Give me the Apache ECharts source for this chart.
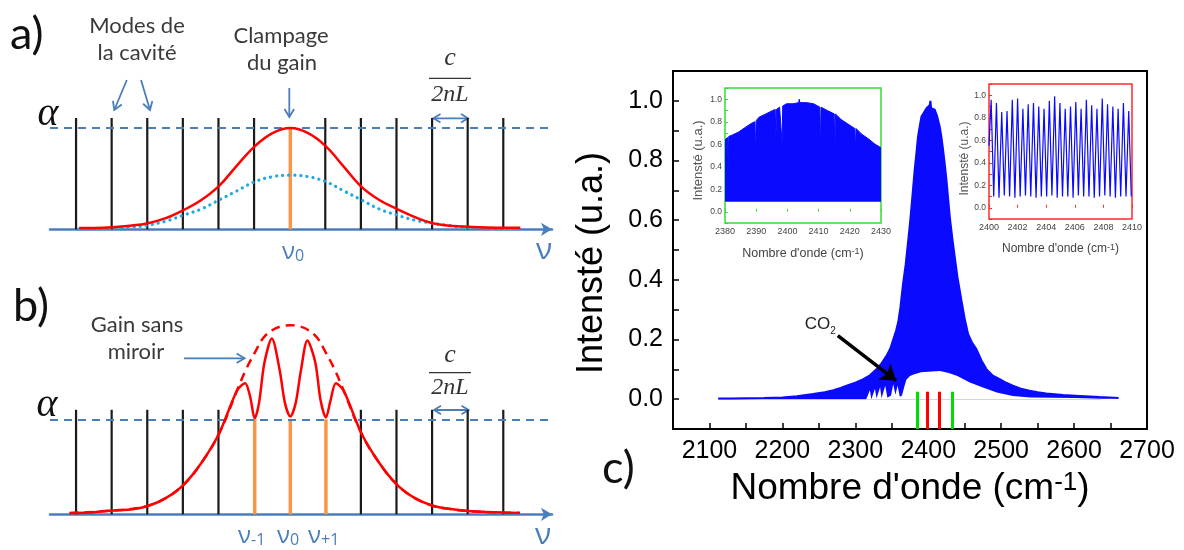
<!DOCTYPE html>
<html><head><meta charset="utf-8">
<script src="https://cdn.jsdelivr.net/npm/echarts@6/dist/echarts.min.js"></script>
<style>html,body{margin:0;padding:0;background:#fff}#c{width:1184px;height:550px}</style>
</head><body><div id="c"></div>
<script>
// ---------- Panel a) : cavity modes and clamped gain ----------
const modesA = [-6,-5,-4,-3,-2,-1,1,2,3,4,5,6];
const lasingA = [0];
const modeHeight = 1.1;
const alphaLevel = 1;
const gainAx = [-5.93,-5.5,-5,-4.5,-4,-3.5,-3,-2.5,-2,-1.5,-1,-0.5,0,0.5,1,1.5,2,2.5,3,3.5,4,4.5,5,5.5,6,6.46];
const gainAy = [0.012,0.013,0.02,0.035,0.06,0.11,0.19,0.29,0.43,0.63,0.82,0.95,1.0,0.95,0.82,0.62,0.42,0.29,0.2,0.12,0.06,0.035,0.025,0.018,0.015,0.015];
const unsatAy = [0.004,0.005,0.01,0.02,0.04,0.08,0.14,0.2,0.29,0.38,0.47,0.52,0.535,0.52,0.47,0.38,0.29,0.2,0.14,0.09,0.06,0.035,0.018,0.01,0.006,0.005];

// ---------- Panel b) : gain without mirror / spectral hole burning ----------
const modesB = [-6,-5,-4,-3,-2,2,3,4,5,6];
const lasingB = [-1,0,1];
const freeBx = [-6.2,-5.5,-5,-4.5,-4,-3.5,-3,-2.5,-2,-1.5,-1.25,-1,-0.75,-0.5,-0.25,0,0.25,0.5,0.75,1,1.25,1.5,2,2.5,3,3.5,4,4.5,5,5.5,6,6.45];
const freeBy = [0.015,0.025,0.04,0.055,0.09,0.17,0.31,0.54,0.85,1.3,1.52,1.7,1.86,1.94,1.98,1.99,1.98,1.94,1.86,1.7,1.52,1.3,0.85,0.54,0.31,0.17,0.09,0.055,0.035,0.025,0.018,0.015];
const satBx = [-6.2,-5.5,-5,-4.5,-4,-3.5,-3,-2.5,-2,-1.5,-1.27,-1.13,-1.0,-0.88,-0.73,-0.52,-0.3,-0.15,0,0.15,0.3,0.48,0.7,0.85,1.0,1.13,1.28,1.5,2,2.5,3,3.5,4,4.5,5,5.5,6,6.45];
const satBy = [0.012,0.022,0.04,0.05,0.087,0.17,0.31,0.54,0.85,1.3,1.38,1.24,1.01,1.17,1.59,1.85,1.52,1.17,1.03,1.17,1.52,1.83,1.6,1.2,1.02,1.2,1.38,1.3,0.85,0.54,0.31,0.17,0.09,0.055,0.035,0.025,0.018,0.015];

// ---------- Panel c) : measured spectrum ----------
const specUpper = [[2112,0.002],[2130,0.002],[2150,0.003],[2175,0.004],[2200,0.006],[2220,0.01],[2242,0.017],[2258,0.023],[2270,0.03],[2280,0.038],[2288,0.045],[2300,0.055],[2311,0.067],[2320,0.08],[2329,0.1],[2336,0.12],[2343,0.146],[2348,0.17],[2352,0.2],[2356,0.23],[2359,0.26],[2362,0.31],[2365.5,0.387],[2369,0.45],[2372,0.52],[2375,0.59],[2377,0.644],[2379,0.7],[2381.5,0.77],[2384,0.83],[2386,0.88],[2388,0.91],[2390.7,0.947],[2394,0.96],[2397.6,0.975],[2400,0.97],[2402,0.985],[2403,1.0],[2404,0.975],[2406,0.98],[2409,0.97],[2412,0.95],[2415.8,0.913],[2418,0.88],[2420.4,0.835],[2423,0.78],[2425,0.734],[2427,0.68],[2429.6,0.61],[2433,0.54],[2436.4,0.476],[2440,0.41],[2445.6,0.33],[2450,0.27],[2454.7,0.218],[2460,0.19],[2466,0.168],[2473,0.13],[2480,0.1],[2488,0.08],[2498,0.067],[2507,0.055],[2516,0.045],[2527,0.035],[2539,0.028],[2550,0.023],[2562,0.019],[2585,0.014],[2608,0.011],[2635,0.007],[2661,0.004]];
const specLower = [[2112,0],[2300,0],[2315,0],[2320,0.03],[2322,0.0],[2327,0.035],[2329,0.002],[2334,0.04],[2336,0.003],[2341,0.045],[2344,0.005],[2349,0.012],[2352,0.05],[2355,0.015],[2358,0.045],[2361,0.008],[2364,0.012],[2367,0.04],[2370,0.065],[2375,0.078],[2380,0.083],[2390,0.09],[2405,0.093],[2416,0.094],[2428,0.088],[2440,0.078],[2457,0.056],[2475,0.039],[2494,0.022],[2516,0.011],[2540,0.006],[2600,0.004],[2661,0.0]];
const markX = [2385, 2399, 2415, 2433];
const markColors = ['#00dd00','#ff0000','#ff0000','#00dd00'];
const markTop = 0.025;
const co2ArrowFrom = [2276, 0.213];
const co2ArrowTo = [2356, 0.062];
const co2LabelAt = [2252, 0.25];

// green inset (2380-2430)
const greenEnv = [[2380,0.64],[2380.8,0.66],[2381.0,0.41],[2381.2,0.67],[2382.2,0.68],[2384.4,0.71],[2386.5,0.75],[2388.7,0.79],[2389.6,0.8],[2389.8,0.5],[2390.0,0.81],[2390.9,0.84],[2393.1,0.87],[2395.3,0.9],[2396.1,0.91],[2396.3,0.62],[2396.5,0.91],[2397.5,0.93],[2398.1,0.94],[2398.3,0.6],[2398.5,0.94],[2399.7,0.96],[2401.8,0.96],[2403.6,0.97],[2403.8,1.0],[2404.0,0.97],[2406.2,0.97],[2408.4,0.96],[2410.4,0.93],[2410.6,0.54],[2410.8,0.93],[2412.8,0.9],[2415.0,0.87],[2415.2,0.54],[2415.4,0.87],[2417.2,0.82],[2419.4,0.78],[2421.6,0.74],[2421.8,0.54],[2422.0,0.74],[2423.8,0.69],[2425.9,0.65],[2428.1,0.6],[2430,0.57]];
const greenBase = 0.09;

// red inset (2400-2410)
const redStart = [2400.0, 0.55];
const peakX = [2400.15,2400.52,2400.89,2401.26,2401.63,2402.00,2402.37,2402.74,2403.11,2403.48,2403.85,2404.22,2404.59,2404.96,2405.33,2405.70,2406.07,2406.44,2406.81,2407.18,2407.55,2407.92,2408.29,2408.66,2409.03,2409.40,2409.77];
const peakY = [0.96,0.93,0.85,0.86,0.96,0.97,0.88,0.92,0.93,0.9,0.88,0.95,0.99,0.93,0.88,0.9,0.94,0.88,0.96,0.91,0.88,0.97,0.92,0.9,0.88,0.93,0.86];
const valleyX = [2400.33,2400.70,2401.07,2401.44,2401.81,2402.18,2402.55,2402.92,2403.29,2403.66,2404.03,2404.40,2404.77,2405.14,2405.51,2405.88,2406.25,2406.62,2406.99,2407.36,2407.73,2408.10,2408.47,2408.84,2409.21,2409.58,2409.95];
const valleyY = [0.1,0.09,0.11,0.1,0.09,0.1,0.11,0.1,0.09,0.1,0.1,0.11,0.09,0.1,0.1,0.09,0.11,0.1,0.1,0.09,0.1,0.11,0.1,0.09,0.1,0.1,0.1];

// tick label sets
const mainXTicks = [2100,2200,2300,2400,2500,2600,2700];
const evenTenths = [0,2,4,6,8,10];

// ---------- styles ----------
const FC = '"Liberation Sans", Arial, sans-serif';
const FCN = '"Liberation Sans Narrow", "Liberation Sans", Arial, sans-serif';
const FL = 'Lato, "Open Sans", sans-serif';
const FG = '"Open Sans", "DejaVu Sans", sans-serif';
const FS = '"Liberation Serif", "DejaVu Serif", serif';
const BLUE_ANN = '#4a7ebb';
const TXT = '#3a3a3a';
const SPEC = '#0a0aff';

const zip = (xs, ys) => xs.map((x, i) => [x, ys[i]]);
const tenthFmt = v => { const t = Math.round(v * 10); return (t >= 0 && evenTenths.indexOf(t) >= 0) ? (t / 10).toFixed(1) : ''; };
const plainFmt = v => String(Math.round(v));

const redComb = [redStart];
peakX.forEach((x, i) => { redComb.push([x, peakY[i]]); redComb.push([valleyX[i], valleyY[i]]); });

// ---------- graphic annotations helpers ----------
function arrow(x1, y1, x2, y2, o) {
  o = o || {};
  const color = o.color || BLUE_ANN, w = o.width || 1.8, head = o.head || 8, both = !!o.both;
  const dx = x2 - x1, dy = y2 - y1, L = Math.hypot(dx, dy), ux = dx / L, uy = dy / L, nx = -uy, ny = ux, hw = head * 0.6;
  const els = [{ type: 'line', silent: true, shape: { x1, y1, x2, y2 }, style: { stroke: color, lineWidth: w } }];
  const mk = (tx, ty, sx, sy) => ({ type: 'polyline', silent: true,
    shape: { points: [[tx - sx * head + nx * hw, ty - sy * head + ny * hw], [tx, ty], [tx - sx * head - nx * hw, ty - sy * head - ny * hw]] },
    style: { stroke: color, lineWidth: w, fill: null } });
  els.push(mk(x2, y2, ux, uy));
  if (both) els.push(mk(x1, y1, -ux, -uy));
  return els;
}
function txt(t, x, y, size, opt) {
  opt = opt || {};
  return { type: 'text', silent: true, style: Object.assign({
    text: t, x, y, fill: opt.fill || TXT, fontSize: size, fontFamily: opt.family || FL,
    fontStyle: opt.italic ? 'italic' : 'normal',
    align: opt.align || 'center', verticalAlign: 'middle', textAlign: opt.align || 'center', textVerticalAlign: 'middle'
  }, opt.extra || {}) };
}
function nuLabel(sub, x, y) {
  return { type: 'text', silent: true, style: {
    text: '{n|ν}' + (sub ? '{s|' + sub + '}' : ''), x, y, align: 'left', verticalAlign: 'middle', textAlign: 'left', textVerticalAlign: 'middle',
    rich: { n: { fontSize: 24, fontFamily: FG, fill: BLUE_ANN, lineHeight: 24, verticalAlign: 'bottom' },
            s: { fontSize: 16, fontFamily: FG, fill: BLUE_ANN, lineHeight: 11, verticalAlign: 'bottom' } } } };
}

const graphics = [].concat(
  [txt('a)', 10, 34, 45, { align: 'left', fill: '#111' }),
   txt('b)', 13, 306, 45, { align: 'left', fill: '#111' }),
   txt('c)', 602, 468, 45, { align: 'left', fill: '#111' }),
   txt('Modes de', 137, 26, 22), txt('la cavité', 137, 53, 22),
   txt('Clampage', 281, 36, 22), txt('du gain', 282, 63, 22),
   txt('Gain sans', 137, 325, 22), txt('miroir', 136, 352, 22),
   txt('α', 48, 114, 40, { family: FS, italic: true, fill: '#111' }),
   txt('α', 47, 405, 40, { family: FS, italic: true, fill: '#111' }),
   txt('c', 450, 58, 26, { family: FS, italic: true, fill: '#333' }),
   txt('2nL', 450, 95, 24, { family: FS, italic: true, fill: '#333' }),
   { type: 'line', silent: true, shape: { x1: 429, y1: 78.3, x2: 471, y2: 78.3 }, style: { stroke: '#333', lineWidth: 1.3 } },
   txt('c', 450, 355, 26, { family: FS, italic: true, fill: '#333' }),
   txt('2nL', 450, 388, 24, { family: FS, italic: true, fill: '#333' }),
   { type: 'line', silent: true, shape: { x1: 429, y1: 372.7, x2: 471, y2: 372.7 }, style: { stroke: '#333', lineWidth: 1.3 } },
   nuLabel('0', 282, 252),
   nuLabel('-1', 238, 536), nuLabel('0', 277, 536), nuLabel('+1', 308, 536),
   txt('ν', 544, 250, 30, { family: FG, fill: BLUE_ANN }),
   txt('ν', 543, 535, 30, { family: FG, fill: BLUE_ANN })
  ],
  arrow(126.8, 80, 114.3, 110),
  arrow(141, 80, 150, 110),
  arrow(289.3, 88, 289.3, 117),
  arrow(433.5, 118.3, 468, 118.3, { both: true, head: 7 }),
  arrow(184, 358.3, 244.6, 358.3),
  arrow(434, 410, 468.6, 410, { both: true, head: 7 })
);

// ---------- axes ----------
const schemX = (gi) => ({ gridIndex: gi, type: 'value', min: -6.75, max: 7.35,
  axisLine: { show: true, onZero: false, lineStyle: { color: BLUE_ANN, width: 2.5 }, symbol: ['none', 'arrow'], symbolSize: [10, 11] },
  axisTick: { show: false }, axisLabel: { show: false }, splitLine: { show: false } });
const schemY = (gi, max) => ({ gridIndex: gi, type: 'value', min: 0, max: max, show: false, splitLine: { show: false } });

const insetX = (gi, min, max, interval, col, gap, fs) => ({ gridIndex: gi, type: 'value', min, max, interval,
  axisLine: { show: false }, axisTick: { inside: true, length: 3, lineStyle: { color: col } },
  axisLabel: { fontSize: 9, color: '#444', fontFamily: FCN, margin: 4, formatter: plainFmt }, splitLine: { show: false },
  name: "Nombre d'onde (cm{sup|-1})", nameLocation: 'middle', nameGap: gap,
  nameTextStyle: { fontSize: fs, lineHeight: fs, color: '#444', fontFamily: FCN,
    rich: { sup: { fontSize: 9, lineHeight: 4, verticalAlign: 'top', color: '#444', fontFamily: FCN } } } });
const insetY = (gi, col, gap, fs, pad) => ({ gridIndex: gi, type: 'value', min: -0.1, max: 1.1, interval: 0.1,
  axisLine: { show: false }, axisTick: { inside: true, length: 3, lineStyle: { color: col } },
  axisLabel: { fontSize: 8.5, color: '#444', fontFamily: FCN, margin: 3, formatter: tenthFmt }, splitLine: { show: false },
  name: 'Intensté (u.a.)', nameLocation: 'middle', nameGap: gap,
  nameTextStyle: { fontSize: fs, color: '#555', fontFamily: FCN, padding: [0, pad, 0, 0] } });

const option = {
  animation: false,
  backgroundColor: '#fff',
  graphic: { elements: graphics },
  grid: [
    { left: 50, top: 118, right: 632, bottom: 320.7, show: false },
    { left: 50, top: 314.8, right: 632, bottom: 35.7, show: false },
    { left: 673, top: 71, right: 37, bottom: 121, show: true, borderColor: '#000', borderWidth: 2, backgroundColor: 'transparent' },
    { left: 725, top: 88, width: 156, height: 135, show: true, borderColor: '#33dd33', borderWidth: 1.5, backgroundColor: '#fff' },
    { left: 989, top: 84, width: 143, height: 135, show: true, borderColor: '#ff2a2a', borderWidth: 1.5, backgroundColor: '#fff' }
  ],
  xAxis: [
    schemX(0), schemX(1),
    { gridIndex: 2, type: 'value', min: 2050, max: 2700, interval: 50,
      axisLine: { show: true, onZero: false, lineStyle: { color: '#000', width: 2 } },
      axisTick: { inside: true, length: 6, lineStyle: { color: '#000', width: 1.5 } },
      axisLabel: { fontSize: 25, color: '#000', fontFamily: FC, margin: 10, formatter: v => mainXTicks.indexOf(Math.round(v)) >= 0 ? String(Math.round(v)) : '' },
      splitLine: { show: false },
      name: "Nombre d'onde (cm{sup|-1})", nameLocation: 'middle', nameGap: 41,
      nameTextStyle: { fontSize: 37, lineHeight: 37, color: '#000', fontFamily: FC,
        rich: { sup: { fontSize: 26, lineHeight: 25, verticalAlign: 'top', color: '#000', fontFamily: FC } } } },
    insetX(3, 2380, 2430, 10, '#33dd33', 24, 12.5),
    insetX(4, 2400, 2410, 2, '#ff2a2a', 24, 12)
  ],
  yAxis: [
    schemY(0, 1.1), schemY(1, 2.1),
    { gridIndex: 2, type: 'value', min: -0.1, max: 1.1, interval: 0.1,
      axisLine: { show: true, onZero: false, lineStyle: { color: '#000', width: 2 } },
      axisTick: { inside: true, length: 6, lineStyle: { color: '#000', width: 1.5 } },
      axisLabel: { fontSize: 25, color: '#000', fontFamily: FC, margin: 10, formatter: tenthFmt },
      splitLine: { show: false },
      name: 'Intensté (u.a.)', nameLocation: 'middle', nameGap: 63,
      nameTextStyle: { fontSize: 36, color: '#000', fontFamily: FC, padding: [0, 26, 0, 0] } },
    insetY(3, '#33dd33', 20, 13, 10),
    insetY(4, '#ff2a2a', 17, 12, 14)
  ],
  series: [
    // ---- panel a
    { type: 'bar', xAxisIndex: 0, yAxisIndex: 0, silent: true, barWidth: 2.2, barGap: '-100%',
      data: modesA.map(k => [k, modeHeight]), itemStyle: { color: '#1a1a1a' }, z: 2,
      markLine: { silent: true, symbol: 'none', label: { show: false }, lineStyle: { color: BLUE_ANN, type: [8, 6], width: 1.8 }, data: [{ yAxis: alphaLevel }] } },
    { type: 'bar', xAxisIndex: 0, yAxisIndex: 0, silent: true, barWidth: 3.5, barGap: '-100%',
      data: lasingA.map(k => [k, alphaLevel]), itemStyle: { color: '#f79646' }, z: 3 },
    { type: 'line', xAxisIndex: 0, yAxisIndex: 0, silent: true, smooth: 0.4, symbol: 'none', z: 4,
      data: zip(gainAx, unsatAy), lineStyle: { color: '#1fa8e8', width: 3.2, type: [0.1, 6], cap: 'round' } },
    { type: 'line', xAxisIndex: 0, yAxisIndex: 0, silent: true, smooth: 0.4, symbol: 'none', z: 5,
      data: zip(gainAx, gainAy), lineStyle: { color: '#ff0000', width: 2.5 } },
    // ---- panel b
    { type: 'bar', xAxisIndex: 1, yAxisIndex: 1, silent: true, barWidth: 2.2, barGap: '-100%',
      data: modesB.map(k => [k, modeHeight]), itemStyle: { color: '#1a1a1a' }, z: 2,
      markLine: { silent: true, symbol: 'none', label: { show: false }, lineStyle: { color: BLUE_ANN, type: [8, 6], width: 1.8 }, data: [{ yAxis: alphaLevel }] } },
    { type: 'bar', xAxisIndex: 1, yAxisIndex: 1, silent: true, barWidth: 3.5, barGap: '-100%',
      data: lasingB.map(k => [k, alphaLevel]), itemStyle: { color: '#f79646' }, z: 3 },
    { type: 'line', xAxisIndex: 1, yAxisIndex: 1, silent: true, smooth: 0.4, symbol: 'none', z: 4,
      data: zip(freeBx, freeBy), lineStyle: { color: '#ff0000', width: 2.5, type: [9, 6] } },
    { type: 'line', xAxisIndex: 1, yAxisIndex: 1, silent: true, smooth: 0.3, symbol: 'none', z: 5,
      data: zip(satBx, satBy), lineStyle: { color: '#ff0000', width: 2.5 } },
    // ---- panel c main spectrum
    { type: 'line', xAxisIndex: 2, yAxisIndex: 2, silent: true, symbol: 'none', z: 2,
      data: specUpper, lineStyle: { color: SPEC, width: 2 }, areaStyle: { color: SPEC, opacity: 1 } },
    { type: 'line', xAxisIndex: 2, yAxisIndex: 2, silent: true, symbol: 'none', z: 3,
      data: specLower, lineStyle: { width: 0, color: '#fff' }, areaStyle: { color: '#fff', opacity: 1 } },
    { type: 'line', xAxisIndex: 2, yAxisIndex: 2, silent: true, symbol: 'none', z: 6, data: [],
      markLine: { silent: true, symbol: 'none', label: { show: false },
        data: markX.map((x, i) => [{ coord: [x, -0.1], lineStyle: { color: markColors[i], width: 3, type: 'solid' } }, { coord: [x, markTop] }]) } },
    { type: 'line', xAxisIndex: 2, yAxisIndex: 2, silent: true, symbol: 'none', z: 7, data: [],
      markLine: { silent: true, symbol: ['none', 'arrow'], symbolSize: 15, label: { show: false },
        lineStyle: { color: '#000', width: 3.5, type: 'solid' },
        data: [[{ coord: co2ArrowFrom }, { coord: co2ArrowTo }]] },
      markPoint: { silent: true, symbol: 'circle', symbolSize: 1, itemStyle: { color: 'rgba(0,0,0,0)' },
        label: { show: true, position: 'inside', formatter: 'CO{s|2}', fontSize: 17, lineHeight: 24, color: '#222', fontFamily: FC,
          rich: { s: { fontSize: 10, lineHeight: 4, verticalAlign: 'bottom', color: '#222', fontFamily: FC } } },
        data: [{ coord: co2LabelAt }] } },
    // ---- green inset
    { type: 'line', xAxisIndex: 3, yAxisIndex: 3, silent: true, symbol: 'none', z: 2,
      data: greenEnv, lineStyle: { color: SPEC, width: 1 }, areaStyle: { color: SPEC, opacity: 1, origin: greenBase } },
    // ---- red inset
    { type: 'line', xAxisIndex: 4, yAxisIndex: 4, silent: true, symbol: 'none', z: 2,
      data: redComb, lineStyle: { color: SPEC, width: 1.2 } }
  ]
};

const chart = echarts.init(document.getElementById('c'), null, { renderer: 'canvas' });
chart.setOption(option);
</script>
</body></html>
